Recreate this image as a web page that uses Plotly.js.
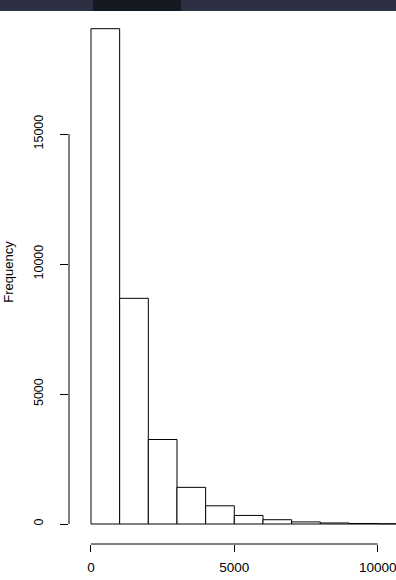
<!DOCTYPE html>
<html>
<head>
<meta charset="utf-8">
<script src="https://cdn.plot.ly/plotly-3.0.1.min.js"></script>
<style>html,body{margin:0;padding:0;background:#fff;}#chart{width:396px;height:580px;}</style>
</head>
<body>
<div id="chart"></div>
<script>
// Histogram bins (start of each 1000-wide bin) and counts
var binStarts = [0, 1000, 2000, 3000, 4000, 5000, 6000, 7000, 8000, 9000, 10000];
var counts = [19050, 8680, 3250, 1410, 700, 330, 165, 80, 40, 20, 10];
var binWidth = 1000;
var yTickVals = [0, 5000, 10000, 15000];
var yTickText = ["0", "5000", "10000", "15000"];
var xTickVals = [0, 5000, 10000];
var xTickText = ["0", "5000", "10000"];

var centers = binStarts.map(function (s) { return s + binWidth / 2; });

var trace = {
  type: 'bar',
  x: centers,
  y: counts,
  width: binStarts.map(function () { return binWidth; }),
  marker: { color: '#ffffff', line: { color: '#000000', width: 1 } },
  hoverinfo: 'x+y'
};

var layout = {
  width: 396,
  height: 580,
  margin: { l: 69, r: 0, t: 0, b: 36 },
  paper_bgcolor: '#ffffff',
  plot_bgcolor: '#ffffff',
  showlegend: false,
  font: { family: 'Liberation Sans, Arial, sans-serif', color: '#000000' },
  xaxis: {
    range: [-767, 10640],
    showgrid: false, zeroline: false, showline: false,
    tickmode: 'array', tickvals: xTickVals, ticktext: xTickText,
    ticks: 'outside', ticklen: 7, tickcolor: '#000', tickwidth: 1,
    ticklabeloverflow: 'allow',
    ticklabelstandoff: 4,
    tickfont: { size: 13.5 }
  },
  yaxis: {
    range: [-769, 20154],
    showgrid: false, zeroline: false, showline: false,
    tickmode: 'array', tickvals: yTickVals, ticktext: yTickText,
    ticks: 'outside', ticklen: 8, tickcolor: '#000', tickwidth: 1,
    tickangle: -90,
    ticklabelstandoff: 12,
    tickfont: { size: 12.5 },
    title: { text: 'Frequency', font: { size: 13 }, standoff: 15 }
  },
  shapes: [
    { type: 'line', xref: 'paper', yref: 'y', x0: 0, x1: 0, y0: 0, y1: 15000,
      line: { color: '#000', width: 1 } },
    { type: 'line', xref: 'x', yref: 'paper', x0: 0, x1: 10000, y0: 0, y1: 0,
      line: { color: '#000', width: 1 } },
    { type: 'rect', xref: 'paper', yref: 'paper', x0: -0.211, x1: 1, y0: 0.98, y1: 1.0,
      fillcolor: '#2d3042', line: { width: 0 }, layer: 'above' },
    { type: 'rect', xref: 'paper', yref: 'paper', x0: 0.073, x1: 0.342, y0: 0.98, y1: 1.0,
      fillcolor: '#151922', line: { width: 0 }, layer: 'above' }
  ]
};

Plotly.newPlot('chart', [trace], layout, { displayModeBar: false, staticPlot: true });
</script>
</body>
</html>
